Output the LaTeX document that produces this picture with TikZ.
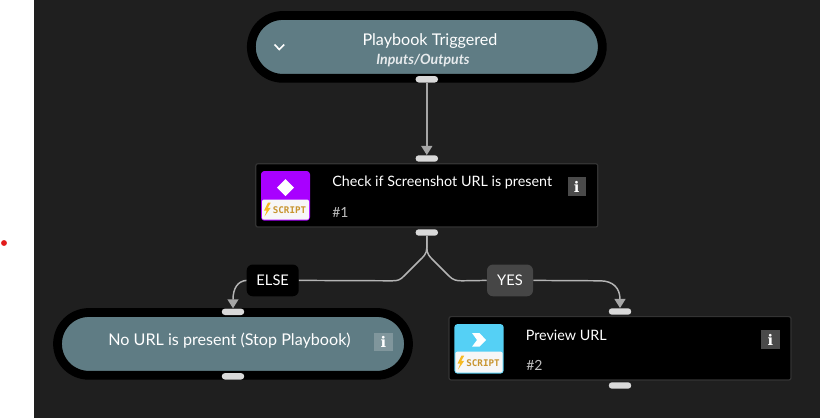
\documentclass[tikz,border=0pt]{standalone}
\usepackage{fontspec}
\setmainfont{Lato}
\newfontfamily\iconmono{DejaVu Sans Mono}
\newfontfamily\iconserif{DejaVu Serif}
\usetikzlibrary{arrows.meta}
\definecolor{canvasbg}{HTML}{1F1F1F}
\definecolor{pillteal}{HTML}{5F7C84}
\definecolor{portgrey}{HTML}{D9D9D9}
\definecolor{edgegrey}{HTML}{B4B4B4}
\definecolor{headgrey}{HTML}{A6A6A6}
\definecolor{infogrey}{HTML}{4A4A4A}
\definecolor{infoteal}{HTML}{80969C}
\definecolor{boxedge}{HTML}{333333}
\definecolor{iconpurple}{HTML}{A800FF}
\definecolor{iconblue}{HTML}{55D0F5}
\definecolor{iconpale}{HTML}{F7F7F7}
\definecolor{scriptorange}{HTML}{C8952F}
\definecolor{boltyellow}{HTML}{F6BA22}
\definecolor{yesgrey}{HTML}{464646}
\definecolor{dotred}{HTML}{E21B1B}
\tikzset{
  x=0.75pt,y=-0.75pt,
  pill/.style={draw=black,line width=6.6pt,fill=pillteal,inner sep=0pt,rounded corners=23.5pt,minimum width=263.2pt,minimum height=47.1pt},
  taskbox/.style={draw=boxedge,line width=0.9pt,fill=black,inner sep=0pt,rounded corners=1.5pt,minimum width=256.5pt,minimum height=47.5pt},
  port/.style={fill=portgrey,inner sep=0pt,rounded corners=2.3pt,minimum width=16.8pt,minimum height=4.8pt},
  edgeline/.style={draw=edgegrey,line width=1.1pt},
  arrowed/.style={edgeline,-{Triangle[width=8.2pt,length=6.8pt,color=headgrey]}},
  maintext/.style={text=white,inner sep=0pt,font=\fontsize{10.75pt}{13pt}\selectfont},
  pilltext/.style={text=white,inner sep=0pt,font=\fontsize{12.1pt}{14pt}\selectfont},
  numtext/.style={text=white!75!black,inner sep=0pt,anchor=west,font=\fontsize{10.5pt}{13pt}\selectfont},
  infobox/.style={fill=infogrey,text=white,inner sep=0pt,minimum size=13.8pt,font=\iconserif\bfseries\fontsize{11pt}{12pt}\selectfont},
  branch/.style={text=white,inner sep=0pt,rounded corners=4.5pt,minimum height=23.8pt,font=\fontsize{11pt}{13pt}\selectfont},
  scriptlabel/.style={text=scriptorange,inner sep=0pt,font=\iconmono\bfseries\fontsize{6.9pt}{8pt}\selectfont},
}
\begin{document}
\begin{tikzpicture}
\useasboundingbox (0,0) rectangle (820,418);
\fill[white] (0,0) rectangle (820,418);
\fill[canvasbg] (34,0) rectangle (820,418);
\fill[dotred] (4,243) circle (2.2pt);

% pills and boxes
\node[pill] (trigger) at (426.8,46.9) {};
\node[taskbox] (check) at (426.8,195.4) {};
\node[pill] (nourl) at (233,343.9) {};
\node[taskbox] (preview) at (620,348.3) {};

% ports
\node[port] (p1out) at (426.8,79.3) {};
\node[port] (p2in) at (426.8,158.5) {};
\node[port] (p2out) at (426.8,232.5) {};
\node[port] (p3in) at (233,311.8) {};
\node[port] (p3out) at (233,376.3) {};
\node[port] (p4in) at (620,311.5) {};
\node[port] (p4out) at (620,385.5) {};

% branch labels
\node[branch,fill=black,minimum width=39pt] (elselab) at (272.7,280.4) {ELSE};
\node[branch,fill=yesgrey,minimum width=34.5pt] (yeslab) at (510,280.4) {YES};

% connectors
\draw[arrowed,draw=headgrey] (p1out.south) -- (p2in.north);
\draw[edgeline] (p2out.south) -- (426.8,248) .. controls (426.8,254) and (423,257) .. (420,260) -- (404,276) .. controls (400,280) and (398,280.8) .. (392,280.8) -- (elselab.east);
\draw[edgeline] (p2out.south) -- (426.8,248) .. controls (426.8,254) and (430,257) .. (433,260) -- (449,276) .. controls (453,280) and (456,280.8) .. (462,280.8) -- (yeslab.west);
\draw[arrowed] (elselab.west) .. controls (238,281) and (233,288) .. (p3in.north);
\draw[arrowed] (yeslab.east) -- (600,280.8) .. controls (613,280.8) and (620,288) .. (p4in.north);

% top pill contents
\node[pilltext] (trigtitle) at (430,41) {Playbook Triggered};
\node[text=white!85!pillteal,inner sep=0pt,font=\fontsize{10.6pt}{12pt}\selectfont\itshape\bfseries] (trigsub) at (423,61) {Inputs/Outputs};
\draw[white,line width=1.2pt] (274.5,44.5) -- (279.3,49.5) -- (284.2,44.5);

% check box contents
\fill[iconpurple,rounded corners=2.5pt] (261,171) rectangle (310,220.7);
\fill[iconpale,rounded corners=1.5pt] (262,199.5) rectangle (309,219.7);
\fill[white] (285.5,179) -- (294,187.7) -- (285.5,196.2) -- (277,187.7) -- cycle;
\fill[boltyellow] (268,202.7) -- (264,210.5) -- (266.8,210.5) -- (264.5,216.5) -- (270.7,207.8) -- (267.8,207.8) -- (270.7,202.7) -- cycle;
\node[scriptlabel] (s1) at (289.5,210) {SCRIPT};
\node[maintext,anchor=west] (t1) at (332,182.5) {Check if Screenshot URL is present};
\node[numtext] (n1) at (332,212) {\#1};
\node[infobox] (i1) at (576.7,186.5) {i};

% no url contents
\node[pilltext] (t3) at (229.5,341) {No URL is present (Stop Playbook)};
\node[infobox,fill=infoteal] (i3) at (383.3,342) {i};

% preview box contents
\fill[iconblue,rounded corners=2.5pt] (454.3,324) rectangle (503.7,373.7);
\fill[iconpale,rounded corners=1.5pt] (455.3,351.7) rectangle (502.7,372.7);
\fill[white] (472,333) -- (479.5,333) -- (486,340) -- (479.5,346.7) -- (472,346.7) -- (477,340) -- cycle;
\fill[boltyellow] (461.5,355.7) -- (457.5,363.5) -- (460.3,363.5) -- (458,369.5) -- (464.2,360.8) -- (461.3,360.8) -- (464.2,355.7) -- cycle;
\node[scriptlabel] (s2) at (483,363) {SCRIPT};
\node[maintext,anchor=west] (t2) at (525.5,335) {Preview URL};
\node[numtext] (n2) at (526,365.5) {\#2};
\node[infobox] (i2) at (770.3,339.5) {i};
\end{tikzpicture}
\end{document}
